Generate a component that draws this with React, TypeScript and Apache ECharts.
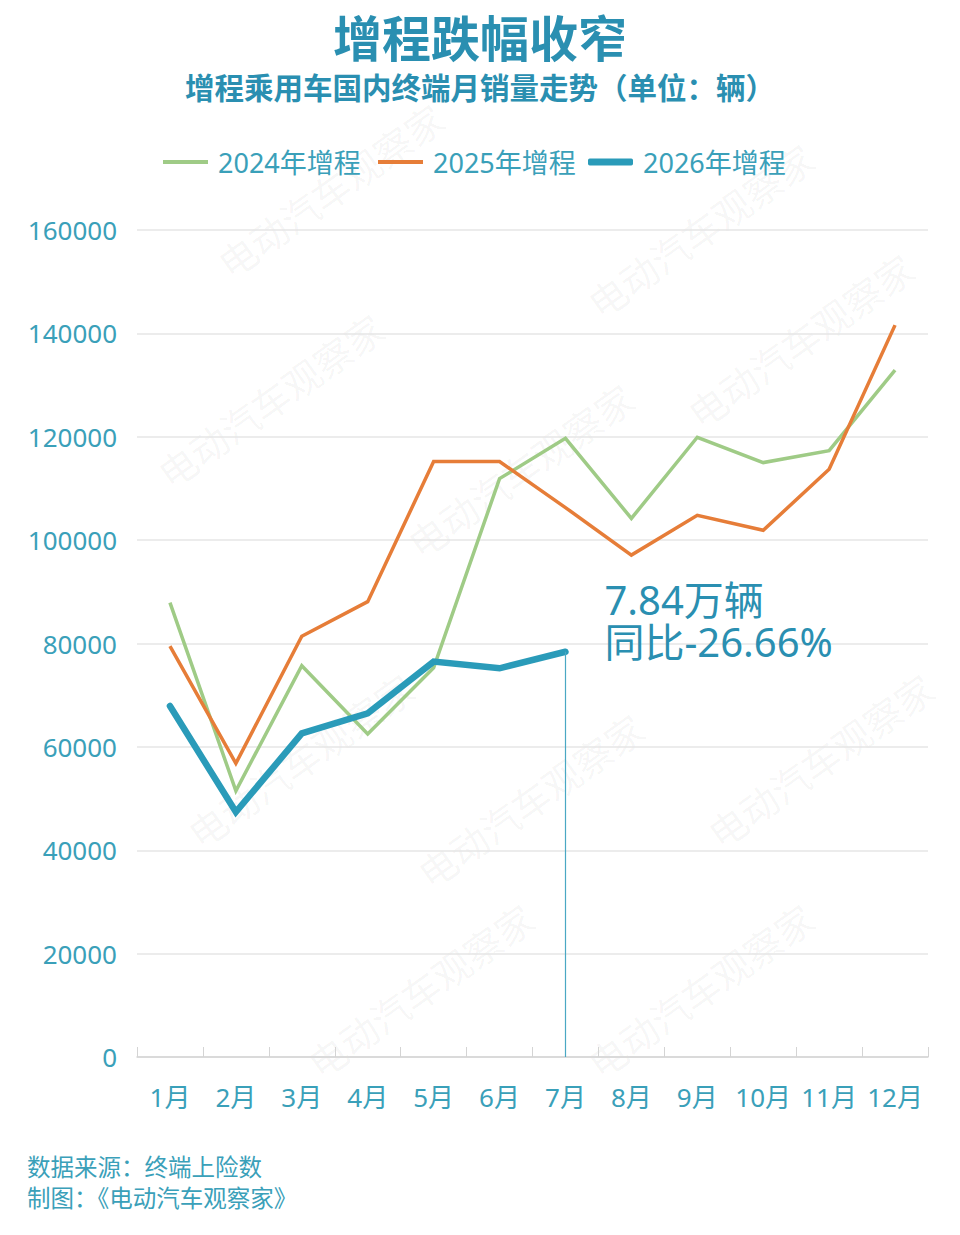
import React, { useEffect, useRef } from "react";
import * as echarts from "echarts";

const months = ["1月", "2月", "3月", "4月", "5月", "6月", "7月", "8月", "9月", "10月", "11月", "12月"];
const sales2024 = [87900, 51500, 75700, 62500, 75300, 111900, 119700, 104200, 119900, 115000, 117300, 132900];
const sales2025 = [79500, 56800, 81400, 88100, 115200, 115200, 106300, 97100, 104800, 101900, 113700, 141600];
const sales2026 = [67900, 47400, 62600, 66500, 76500, 75200, 78400];
const yTicks = { min: 0, max: 160000, interval: 20000 };
const seriesNames = ["2024年增程", "2025年增程", "2026年增程"];
const annotationLines = ["7.84万辆", "同比-26.66%"];

const TEAL = "#2a8fb1";
const LABEL = "#3aa0b9";
const GREEN = "#9fcb86";
const ORANGE = "#e67d38";
const BLUE = "#2a9bb9";
const FONT = '"Noto Sans", "Noto Sans CJK SC", sans-serif';
const CJK = '"Noto Sans CJK SC", "Noto Sans", sans-serif';

const watermarkPos: [number, number][] = [
  [330, 190], [270, 400], [520, 470], [700, 230], [300, 760],
  [530, 800], [820, 760], [420, 990], [700, 990], [800, 340],
];

export default function App() {
  const ref = useRef<HTMLDivElement>(null);
  useEffect(() => {
    document.body.style.margin = "0";
    const chart = echarts.init(ref.current!, undefined, { renderer: "svg" });
    const watermarks = watermarkPos.map(([x, y]) => ({
      type: "text",
      x,
      y,
      rotation: 0.62,
      z: -10,
      silent: true,
      style: {
        text: "电动汽车观察家",
        font: `38px ${CJK}`,
        fill: "rgba(0,0,0,0.045)",
        align: "center",
        verticalAlign: "middle",
      },
    }));
    const legendBase = {
      top: 141,
      itemWidth: 45,
      itemGap: 0,
      textStyle: { fontFamily: FONT, fontSize: 27, lineHeight: 32, color: LABEL, padding: [0, 0, 0, 5] },
    };
    const annLabel = (text: string, dy: number) => ({
      show: true,
      position: "right",
      offset: [34, dy],
      formatter: text,
      fontFamily: FONT,
      fontSize: 40,
      color: TEAL,
      align: "left",
    });
    chart.setOption({
      animation: false,
      backgroundColor: "#ffffff",
      title: [
        {
          text: "增程跌幅收窄",
          left: "center",
          top: 6,
          textStyle: { fontFamily: CJK, fontSize: 49, fontWeight: "bold", color: TEAL },
        },
        {
          text: "增程乘用车国内终端月销量走势（单位：辆）",
          left: "center",
          top: 66,
          textStyle: { fontFamily: CJK, fontSize: 29.5, fontWeight: "bold", color: TEAL },
        },
      ],
      legend: [
        { ...legendBase, left: 158, data: [{ name: seriesNames[0], icon: "rect" }], itemHeight: 4 },
        { ...legendBase, left: 373, data: [{ name: seriesNames[1], icon: "rect" }], itemHeight: 4 },
        { ...legendBase, left: 583, data: [{ name: seriesNames[2], icon: "roundRect" }], itemHeight: 7 },
      ],
      grid: { left: 137, right: 32, top: 230, bottom: 178, containLabel: false },
      xAxis: {
        type: "category",
        data: months,
        boundaryGap: true,
        axisLine: { lineStyle: { color: "#d4d4d4", width: 1.5 } },
        axisTick: { show: true, inside: true, length: 10, lineStyle: { color: "#d4d4d4" } },
        axisLabel: { fontFamily: FONT, fontSize: 26, color: LABEL, margin: 27, interval: 0 },
        splitLine: { show: false },
      },
      yAxis: {
        type: "value",
        min: yTicks.min,
        max: yTicks.max,
        interval: yTicks.interval,
        axisLine: { show: false },
        axisTick: { show: false },
        axisLabel: {
          fontFamily: FONT,
          fontSize: 26,
          color: LABEL,
          margin: 20,
          formatter: (v: number) => String(v),
        },
        splitLine: { lineStyle: { color: "#e6e6e6", width: 1.5 } },
      },
      graphic: watermarks,
      series: [
        {
          name: seriesNames[0],
          type: "line",
          data: sales2024,
          symbol: "none",
          lineStyle: { color: GREEN, width: 3.5, join: "miter" },
          itemStyle: { color: GREEN },
          z: 2,
        },
        {
          name: seriesNames[1],
          type: "line",
          data: sales2025,
          symbol: "none",
          lineStyle: { color: ORANGE, width: 3.5, join: "miter" },
          itemStyle: { color: ORANGE },
          z: 3,
        },
        {
          name: seriesNames[2],
          type: "line",
          data: sales2026,
          symbol: "none",
          lineStyle: { color: BLUE, width: 6.5, cap: "round", join: "miter" },
          itemStyle: { color: BLUE },
          z: 4,
          markLine: {
            silent: true,
            symbol: "none",
            label: { show: false },
            lineStyle: { color: "#4aa8c4", width: 1.2, type: "solid", opacity: 1 },
            data: [
              [
                { coord: ["7月", sales2026[6]], lineStyle: { color: "#4aa8c4", width: 1.2, type: "solid" } },
                { coord: ["7月", 0] },
              ],
            ],
          },
          markPoint: {
            symbol: "circle",
            symbolSize: 0,
            silent: true,
            data: [
              { coord: ["7月", sales2026[6]], label: annLabel(annotationLines[0], -52) },
              { coord: ["7月", sales2026[6]], label: annLabel(annotationLines[1], -10) },
            ],
          },
        },
      ],
    });
    return () => chart.dispose();
  }, []);
  return (
    <div style={{ position: "relative", width: 960, height: 1235, background: "#fff" }}>
      <div ref={ref} style={{ width: 960, height: 1235 }} />
      <div
        style={{
          position: "absolute",
          left: 27,
          top: 1151,
          fontFamily: CJK,
          fontSize: 23.5,
          lineHeight: "31px",
          color: LABEL,
        }}
      >
        <div>数据来源：终端上险数</div>
        <div>制图：《电动汽车观察家》</div>
      </div>
    </div>
  );
}
